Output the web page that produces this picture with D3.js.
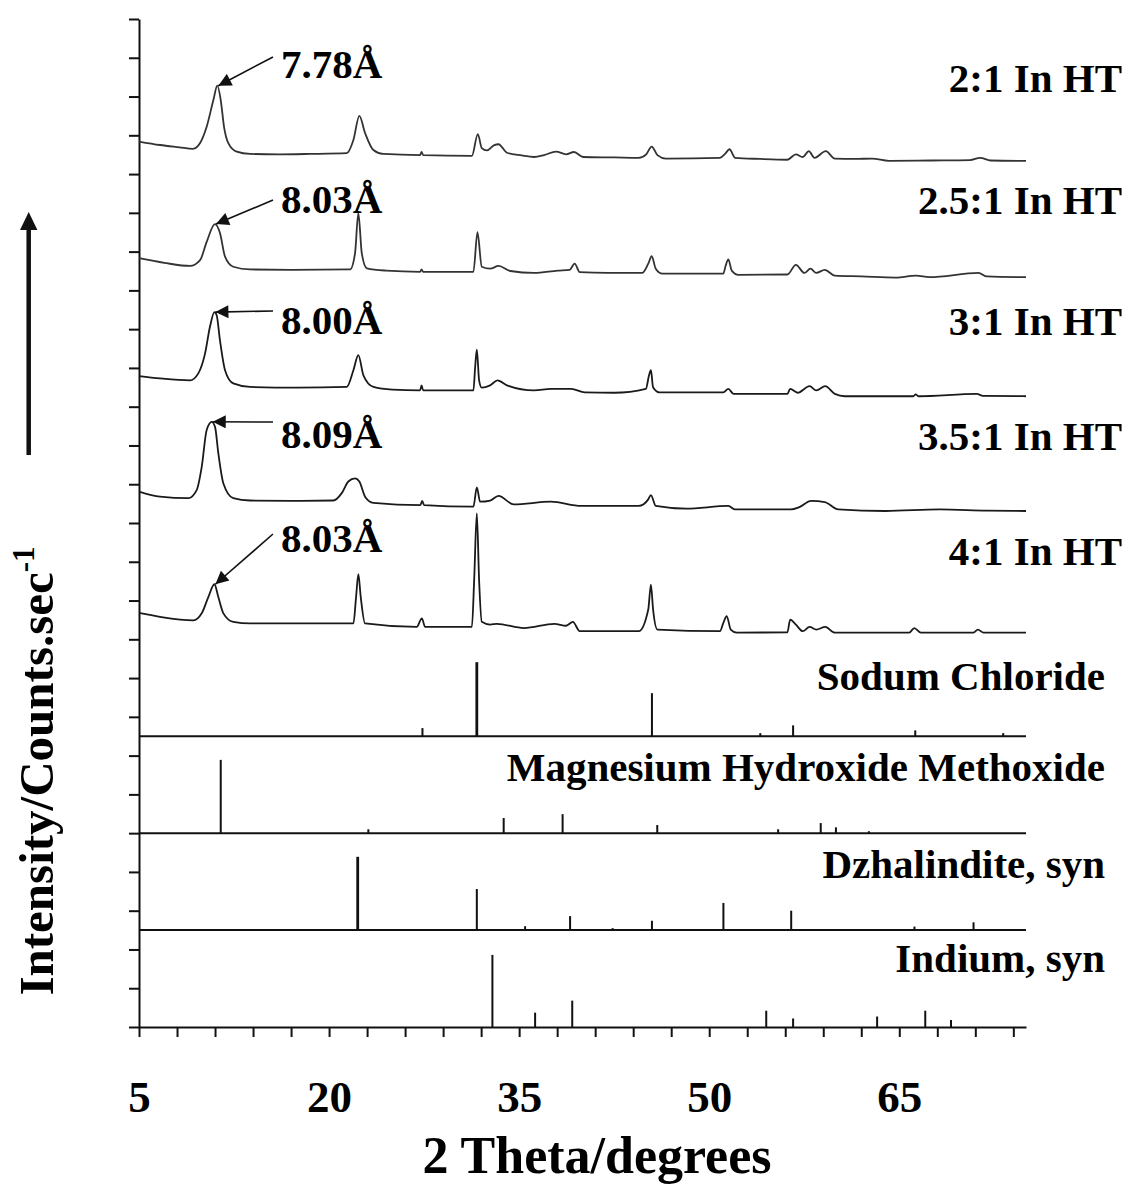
<!DOCTYPE html>
<html>
<head>
<meta charset="utf-8">
<script src="https://cdn.jsdelivr.net/npm/d3@7"></script>
<style>
  body { margin: 0; background: #fff; }
  svg text { font-family: 'Liberation Serif', 'Times New Roman', serif; font-weight: bold; fill: #000; }
</style>
</head>
<body>
<svg id="chart" width="1128" height="1185"></svg>
<script>
// measured patterns: [2 theta, intensity a.u.] above each trace's own baseline
var ht2_1 = [[5.0,50],[6.66,41],[8.2,35],[9.26,31],[9.82,46],[10.34,88],[10.87,157],[11.18,194],[11.45,157],[11.71,88],[12.05,46],[12.71,24],[13.76,18],[16.0,17],[18.5,18],[21.4,20],[21.92,54],[22.39,116],[22.84,72],[23.5,28],[24.26,18],[27.18,15],[27.3,23],[27.42,15],[31.27,13],[31.74,69],[32.05,33],[32.45,27],[33.0,40],[33.37,43],[34.04,21],[35.2,14],[36.18,10],[36.97,15],[37.91,24],[38.71,17],[39.33,23],[40.05,10],[42.5,9],[44.44,8],[45.03,17],[45.46,37],[45.91,15],[46.58,6],[50.85,8],[51.25,18],[51.6,30],[52.05,8],[54.0,5],[56.17,3],[56.84,17],[57.38,10],[57.86,25],[58.31,8],[59.2,25],[59.91,6],[61.5,5],[62.85,6],[64.18,0],[67.5,1],[70.58,2],[71.39,8],[72.2,1],[75,0]];
var ht25_1 = [[5.0,50],[7.0,38],[9.03,30],[9.82,45],[10.34,92],[10.99,138],[11.39,115],[11.79,54],[12.44,28],[13.76,21],[17.0,20],[21.66,21],[22.05,63],[22.31,166],[22.58,63],[22.98,24],[24.5,18],[27.18,15],[27.3,21],[27.42,15],[31.39,15],[31.71,117],[32.05,28],[32.71,23],[33.37,30],[34.31,17],[36.18,12],[38.05,18],[38.98,20],[39.38,36],[39.78,14],[42.0,12],[44.71,12],[45.19,36],[45.46,55],[45.78,23],[46.31,10],[51.11,10],[51.3,31],[51.51,47],[51.78,18],[52.31,7],[56.17,8],[56.84,33],[57.51,12],[57.99,23],[58.45,12],[59.12,20],[59.91,5],[62.0,3],[64.72,0],[66.32,5],[67.38,1],[71.25,12],[71.91,3],[75,1]];
var ht3_1 = [[5.0,52],[6.66,46],[9.03,41],[9.68,59],[10.21,110],[10.6,179],[10.95,217],[11.13,209],[11.39,144],[11.79,67],[12.44,33],[13.76,24],[17.5,22],[21.4,24],[21.92,67],[22.31,106],[22.71,54],[23.5,24],[25.0,17],[27.18,15],[27.3,28],[27.42,15],[31.39,15],[31.53,76],[31.66,120],[31.84,41],[32.05,22],[32.71,28],[33.3,41],[34.04,28],[36.18,15],[37.51,19],[39.11,19],[40.18,10],[42.5,9],[45.0,19],[45.25,54],[45.4,67],[45.57,23],[46.05,10],[51.11,10],[51.51,19],[51.92,6],[56.17,6],[56.39,19],[56.98,9],[57.92,26],[58.45,15],[59.16,26],[59.91,6],[60.71,0],[66.1,0],[66.3,5],[66.5,0],[71.12,6],[71.6,1],[75,0]];
var ht35_1 = [[5.0,50],[6.66,37],[8.89,33],[9.55,54],[9.95,114],[10.34,209],[10.74,230],[11.0,217],[11.26,149],[11.66,71],[12.44,33],[13.76,27],[17.0,26],[20.34,27],[21.0,46],[21.52,76],[22.05,84],[22.39,76],[22.84,37],[23.5,21],[27.2,15],[27.35,26],[27.5,15],[31.39,11],[31.66,61],[31.92,24],[32.71,27],[33.37,39],[34.57,17],[37.51,24],[39.91,13],[44.44,13],[45.19,30],[45.4,41],[45.78,13],[48.18,6],[51.51,13],[52.05,4],[56.45,4],[57.11,10],[58.05,26],[59.12,23],[60.18,4],[63.92,0],[68.18,4],[71.91,1],[75,0]];
var ht4_1 = [[5.0,51],[6.66,41],[9.29,32],[9.95,50],[10.47,92],[10.95,125],[11.26,92],[11.66,50],[12.44,28],[13.76,24],[21.92,24],[22.13,92],[22.31,151],[22.5,92],[22.84,24],[26.92,15],[27.32,37],[27.58,15],[31.27,15],[31.45,135],[31.66,308],[31.84,135],[32.05,28],[32.71,21],[33.25,23],[35.38,12],[37.78,23],[38.71,18],[39.24,28],[39.78,4],[44.44,4],[45.19,60],[45.4,124],[45.57,60],[45.91,8],[50.85,4],[51.11,25],[51.38,43],[51.7,8],[52.18,0],[56.17,1],[56.39,34],[56.84,21],[57.38,4],[57.92,15],[58.45,8],[59.16,15],[59.91,0],[65.78,0],[66.18,12],[66.71,0],[70.85,0],[71.2,8],[71.65,0],[75,0]];

var sampleNames = ['2:1 In HT', '2.5:1 In HT', '3:1 In HT', '3.5:1 In HT', '4:1 In HT'];
var sampleOffsets = [2234, 1933, 1627, 1331, 1017];
var dSpacings = ['7.78\u00C5', '8.03\u00C5', '8.00\u00C5', '8.09\u00C5', '8.03\u00C5'];

// reference cards: [2 theta, relative intensity]
var naclSticks = [[27.37,21],[31.66,191],[45.48,111],[54.03,8],[56.62,28],[66.26,15],[73.2,8]];
var mgSticks = [[11.45,189],[23.1,10],[33.78,39],[38.43,49],[45.9,21],[55.44,10],[58.8,26],[60.0,15],[62.6,5]];
var dzSticks = [[22.26,189],[31.66,106],[35.47,10],[39.02,36],[42.38,5],[45.48,24],[51.12,70],[56.47,50],[66.2,9],[70.86,20]];
var inSticks = [[32.89,186],[36.26,37],[39.19,68],[54.5,42],[56.62,22],[63.25,27],[67.05,42],[69.08,18]];
var refNames = ['Sodum Chloride', 'Magnesium Hydroxide Methoxide', 'Dzhalindite, syn', 'Indium, syn'];
var refBases = [750, 500, 250, 0];

var xTickValues = d3.range(5, 75, 3);
var xTickLabels = [5, 20, 35, 50, 65];
var yTickValues = d3.range(0, 2601, 100);

var svg = d3.select('#chart'),
  margin = { top: 19, right: 102, bottom: 158, left: 139 },
  innerWidth = 1128 - margin.left - margin.right,
  innerHeight = 1185 - margin.top - margin.bottom,
  ink = '#111';

var x = d3.scaleLinear().domain([5, 75]).range([0, innerWidth]);
var y = d3.scaleLinear().domain([0, 2600]).range([innerHeight, 0]);

var g = svg.append('g').attr('transform', 'translate(' + margin.left + ',' + margin.top + ')');

// axes
var xAxis = d3.axisBottom(x).tickValues(xTickValues).tickSize(10).tickSizeOuter(0)
  .tickFormat((d) => (xTickLabels.indexOf(d) >= 0 ? d : ''));
var gx = g.append('g').attr('transform', 'translate(0,' + innerHeight + ')').call(xAxis);
gx.selectAll('text').filter(function () { return this.textContent === ''; }).remove();
gx.selectAll('text').attr('font-size', 45).attr('dy', 0).attr('y', 85);

var yAxis = d3.axisLeft(y).tickValues(yTickValues).tickSize(10).tickSizeOuter(0).tickFormat('');
var gy = g.append('g').call(yAxis);
gy.selectAll('text').remove();

g.selectAll('.domain, .tick line').attr('stroke', ink).attr('stroke-width', 2);

// panel dividers for the reference cards
g.selectAll('line.divider')
  .data(refBases.filter((b) => b > 0))
  .enter()
  .append('line')
  .attr('class', 'divider')
  .attr('x1', 0).attr('x2', innerWidth)
  .attr('y1', (d) => y(d)).attr('y2', (d) => y(d))
  .attr('stroke', ink).attr('stroke-width', 2);

// reference sticks
var cards = [naclSticks, mgSticks, dzSticks, inSticks];
cards.forEach(function (sticks, i) {
  g.append('g').selectAll('line')
    .data(sticks)
    .enter()
    .append('line')
    .attr('x1', (d) => x(d[0])).attr('x2', (d) => x(d[0]))
    .attr('y1', y(refBases[i])).attr('y2', (d) => y(refBases[i] + d[1]))
    .attr('stroke', ink).attr('stroke-width', (d) => (d[1] > 188 && i !== 1 ? 2.8 : 2));
  g.append('text')
    .attr('x', 1105 - margin.left)
    .attr('y', [690, 781, 878, 972][i] - margin.top)
    .attr('text-anchor', 'end')
    .attr('font-size', 41)
    .text(refNames[i]);
});

// sample patterns
var patterns = [ht2_1, ht25_1, ht3_1, ht35_1, ht4_1];
var labelY = [92, 214, 335, 450, 565];
var tailY = [57, 200, 311, 422, 534];
var annoY = [78, 213, 334, 448, 552];

var defs = svg.append('defs');
defs.append('marker')
  .attr('id', 'head')
  .attr('viewBox', '0 0 10 10')
  .attr('refX', 10).attr('refY', 5)
  .attr('markerUnits', 'userSpaceOnUse')
  .attr('markerWidth', 16).attr('markerHeight', 13)
  .attr('orient', 'auto')
  .append('path').attr('d', 'M0,0L10,5L0,10z').attr('fill', ink);

patterns.forEach(function (data, i) {
  var off = sampleOffsets[i];
  var line = d3.line()
    .curve(d3.curveMonotoneX)
    .x((d) => x(d[0]))
    .y((d) => y(off + d[1]));
  g.append('path')
    .datum(data)
    .attr('d', line)
    .attr('fill', 'none')
    .attr('stroke', i < 2 ? '#333' : '#1a1a1a')
    .attr('stroke-width', 1.8)
    .attr('stroke-linejoin', 'round');

  g.append('text')
    .attr('x', 1122 - margin.left)
    .attr('y', labelY[i] - margin.top)
    .attr('text-anchor', 'end')
    .attr('font-size', 41)
    .text(sampleNames[i]);

  // basal reflection marker
  var low = data.filter((d) => d[0] > 9 && d[0] < 13);
  var apex = low.reduce((a, b) => (b[1] > a[1] ? b : a));
  g.append('line')
    .attr('x1', 273 - margin.left).attr('y1', tailY[i] - margin.top)
    .attr('x2', x(apex[0]) + 1).attr('y2', y(off + apex[1]))
    .attr('stroke', ink).attr('stroke-width', 1.6)
    .attr('marker-end', 'url(#head)');
  g.append('text')
    .attr('x', 281 - margin.left)
    .attr('y', annoY[i] - margin.top)
    .attr('font-size', 41)
    .text(dSpacings[i]);
});

// axis titles
svg.append('text')
  .attr('x', 597).attr('y', 1173)
  .attr('text-anchor', 'middle')
  .attr('font-size', 52)
  .text('2 Theta/degrees');

var yt = svg.append('text')
  .attr('transform', 'translate(53,771) rotate(-90)')
  .attr('text-anchor', 'middle')
  .attr('font-size', 49);
yt.append('tspan').text('Intensity/Counts.sec');
yt.append('tspan').attr('dy', -19).attr('font-size', 31).text('-1');

// intensity arrow
svg.append('line')
  .attr('x1', 28.7).attr('x2', 28.7).attr('y1', 455).attr('y2', 228)
  .attr('stroke', ink).attr('stroke-width', 4.5);
svg.append('path')
  .attr('d', 'M28.7,212L20,230L37.4,230Z')
  .attr('fill', ink);
</script>
</body>
</html>
